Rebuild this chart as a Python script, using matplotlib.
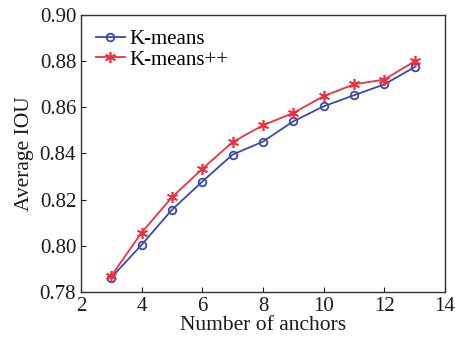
import matplotlib
matplotlib.use('Agg')
import matplotlib.pyplot as plt

# data
anchors = [3, 4, 5, 6, 7, 8, 9, 10, 11, 12, 13]
kmeans = [0.7862, 0.8004, 0.8156, 0.8278, 0.8395, 0.8451, 0.8539, 0.8604, 0.8652, 0.8699, 0.8774]
kmeanspp = [0.7869, 0.8057, 0.8210, 0.8333, 0.8449, 0.8522, 0.8575, 0.8648, 0.8699, 0.8720, 0.8799]
xticks = [2, 4, 6, 8, 10, 12, 14]
yticks = [0.78, 0.80, 0.82, 0.84, 0.86, 0.88, 0.90]

plt.rcParams['font.family'] = ['Liberation Serif', 'DejaVu Serif']

fig = plt.figure(figsize=(4.55, 3.39), dpi=100)
ax = fig.add_axes([0.178, 0.139, 0.800, 0.817])

BLUE = '#3a4aa8'
RED = '#f0303e'
ax.plot(anchors, kmeans, color=BLUE, lw=1.3, marker='o', ms=5.5,
        mfc='none', mec=BLUE, mew=1.3, label='K-means')
ax.plot(anchors, kmeanspp, color=RED, lw=1.3, marker=(6, 2, 0), ms=8,
        mec=RED, mew=1.2, label='K-means++')

ax.set_xlim(2, 14)
ax.set_ylim(0.78, 0.90)
ax.set_xticks(xticks)
ax.set_yticks(yticks)
ax.set_yticklabels(['%.2f' % v for v in yticks])
ax.tick_params(direction='in', length=3.5, width=0.8, labelsize=15, colors='#1a1a1a')
for s in ax.spines.values():
    s.set_linewidth(1.0)
    s.set_color('#333333')

ax.set_xlabel('Number of anchors', fontsize=15.5, labelpad=0, color='#1a1a1a')
ax.set_ylabel('Average IOU', fontsize=15.5, labelpad=4, color='#1a1a1a')

ax.legend(loc='upper left', frameon=False, fontsize=15, handlelength=1.4,
          handletextpad=0.2, borderaxespad=0.3, labelspacing=0.05,
          borderpad=0.4)

fig.savefig('out.png', dpi=100)
